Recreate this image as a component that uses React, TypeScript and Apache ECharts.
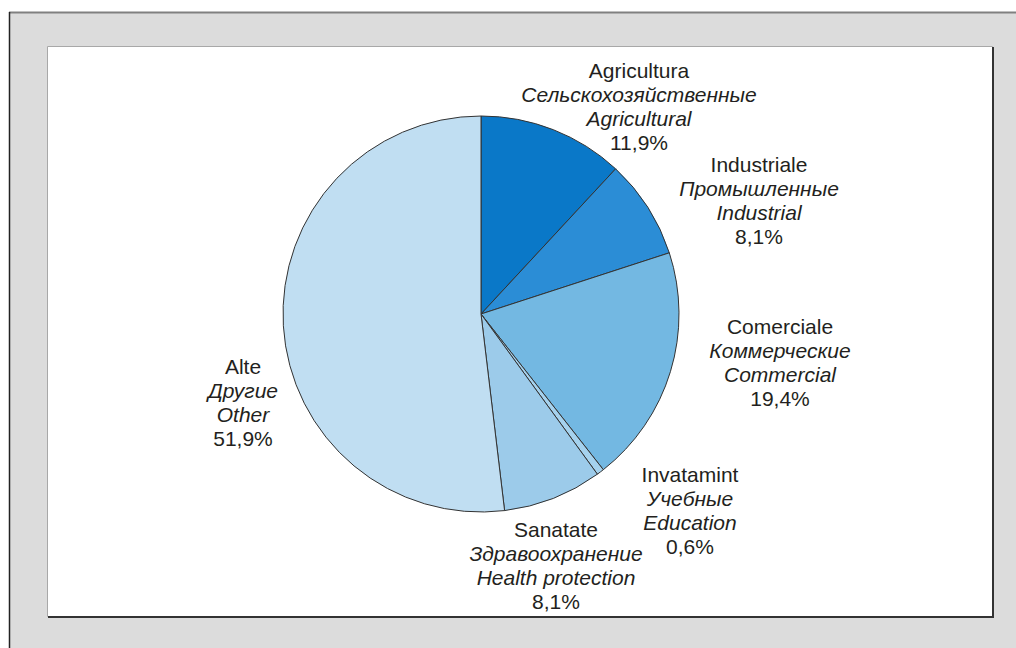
import React, { useEffect, useRef } from "react";
import * as echarts from "echarts";

const NAMES_RO = ["Agricultura", "Industriale", "Comerciale", "Invatamint", "Sanatate", "Alte"];
const NAMES_RU = ["Сельскохозяйственные", "Промышленные", "Коммерческие", "Учебные", "Здравоохранение", "Другие"];
const NAMES_EN = ["Agricultural", "Industrial", "Commercial", "Education", "Health protection", "Other"];
const VALUES = [11.9, 8.1, 19.4, 0.6, 8.1, 51.9];
const COLORS = ["#0a78c8", "#2b8dd6", "#73b8e2", "#a5d2ee", "#9ccbea", "#c0def2"];

// label block centres (layout only)
const LABEL_X = [639, 759, 780, 690, 556, 243];
const LABEL_Y = [106, 200, 362, 510, 565, 402];

export default function App() {
  const ref = useRef<HTMLDivElement>(null);
  useEffect(() => {
    if (!ref.current) return;
    const chart = echarts.init(ref.current, null, { renderer: "svg" });
    const font = "'Liberation Sans', Arial, Helvetica, sans-serif";
    chart.setOption({
      animation: false,
      backgroundColor: "#ffffff",
      graphic: [
        { type: "rect", z: -10, shape: { x: 9, y: 12, width: 1020, height: 650 }, style: { fill: "#dcdcdc" } },
        { type: "line", z: -9, shape: { x1: 9, y1: 12.5, x2: 1016, y2: 12.5 }, style: { stroke: "#808080", lineWidth: 2 } },
        { type: "line", z: -9, shape: { x1: 9.5, y1: 12, x2: 9.5, y2: 648 }, style: { stroke: "#222222", lineWidth: 1.5 } },
        { type: "rect", z: -8, shape: { x: 47.5, y: 46.5, width: 945, height: 570 }, style: { fill: "#ffffff", stroke: "#a8a8a8", lineWidth: 1 } },
        { type: "polyline", z: -7, shape: { points: [[993, 47], [993, 617], [48, 617]] }, style: { stroke: "#333333", lineWidth: 2, fill: null } },
      ],
      series: [
        {
          type: "pie",
          center: [481, 314],
          radius: 198,
          startAngle: 90,
          clockwise: true,
          avoidLabelOverlap: false,
          itemStyle: { borderColor: "#333333", borderWidth: 1 },
          emphasis: { disabled: true },
          labelLine: { show: false },
          label: {
            show: true,
            position: "outside",
            formatter: (p: any) =>
              `{a|${NAMES_RO[p.dataIndex]}}\n{b|${NAMES_RU[p.dataIndex]}}\n{b|${NAMES_EN[p.dataIndex]}}\n{a|${String(VALUES[p.dataIndex]).replace(".", ",")}%}`,
            rich: {
              a: { fontSize: 21, fontFamily: font, color: "#231f20", lineHeight: 24 },
              b: { fontSize: 21, fontFamily: font, fontStyle: "italic", color: "#231f20", lineHeight: 24 },
            },
          },
          labelLayout: (params: any) => ({
            x: LABEL_X[params.dataIndex],
            y: LABEL_Y[params.dataIndex],
            align: "center",
            verticalAlign: "middle",
          }),
          data: VALUES.map((v, i) => ({
            name: NAMES_RO[i],
            value: v,
            itemStyle: { color: COLORS[i] },
          })),
        },
      ],
    });
    return () => chart.dispose();
  }, []);
  return <div ref={ref} style={{ position: "absolute", left: 0, top: 0, width: 1016, height: 648 }} />;
}
